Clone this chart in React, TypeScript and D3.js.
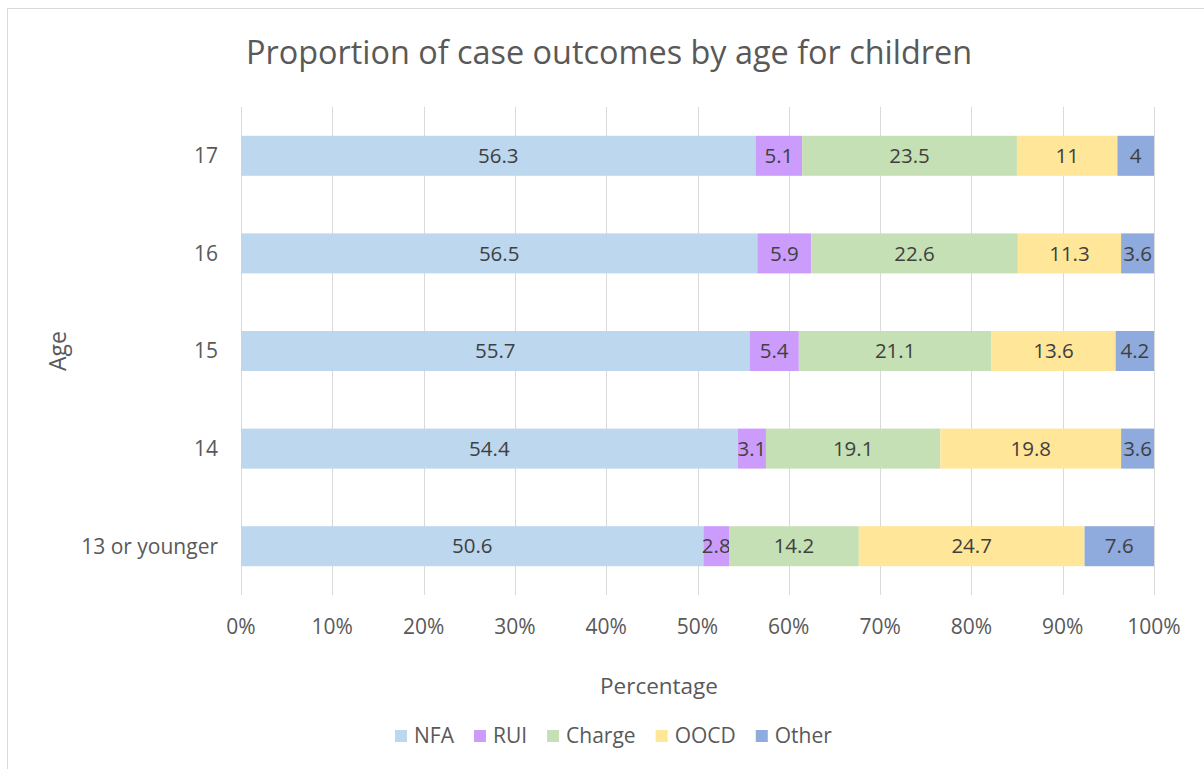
import React, { useEffect, useRef } from "react";
import * as d3 from "d3";

const categories = ["13 or younger", "14", "15", "16", "17"];
const seriesNames = ["NFA", "RUI", "Charge", "OOCD", "Other"];
const nfa = [50.6, 54.4, 55.7, 56.5, 56.3];
const rui = [2.8, 3.1, 5.4, 5.9, 5.1];
const charge = [14.2, 19.1, 21.1, 22.6, 23.5];
const oocd = [24.7, 19.8, 13.6, 11.3, 11];
const other = [7.6, 3.6, 4.2, 3.6, 4];
const xTicks = [0, 0.1, 0.2, 0.3, 0.4, 0.5, 0.6, 0.7, 0.8, 0.9, 1];
const colors = ["#bdd7ee", "#cc9cfc", "#c5e0b4", "#ffe699", "#8faadc"];

const W = 1204;
const H = 769;
const FONT = "'Open Sans', sans-serif";

const App = () => {
  const ref = useRef<SVGSVGElement | null>(null);

  useEffect(() => {
    const svg = d3.select(ref.current!);
    svg.selectAll("*").remove();

    const margin = { left: 241, right: 50, top: 107, bottom: 174 };

    const rows = categories.map((c, i) => ({
      cat: c,
      NFA: nfa[i],
      RUI: rui[i],
      Charge: charge[i],
      OOCD: oocd[i],
      Other: other[i],
    }));

    const stack = d3
      .stack<any>()
      .keys(seriesNames)
      .offset(d3.stackOffsetExpand);
    const layers = stack(rows);

    const x = d3.scaleLinear().domain([0, 1]).range([margin.left, W - margin.right]);
    const y = d3
      .scaleBand()
      .domain([...categories].reverse())
      .range([margin.top, H - margin.bottom])
      .paddingInner(0.59)
      .paddingOuter(0.295);

    // chart border
    svg
      .append("rect")
      .attr("x", 7.5)
      .attr("y", 8.5)
      .attr("width", W + 20)
      .attr("height", H + 20)
      .attr("fill", "#fff")
      .attr("stroke", "#d9d9d9");

    // title
    svg
      .append("text")
      .attr("x", 609)
      .attr("y", 64)
      .attr("text-anchor", "middle")
      .attr("font-family", FONT)
      .attr("font-size", 32.4)
      .attr("fill", "#595959")
      .text("Proportion of case outcomes by age for children");

    // gridlines
    svg
      .append("g")
      .selectAll("line")
      .data(xTicks)
      .join("line")
      .attr("x1", (d) => Math.round(x(d)) + 0.5)
      .attr("x2", (d) => Math.round(x(d)) + 0.5)
      .attr("y1", margin.top)
      .attr("y2", H - margin.bottom)
      .attr("stroke", "#d9d9d9")
      .attr("stroke-width", 1);

    // x tick labels
    svg
      .append("g")
      .selectAll("text")
      .data(xTicks)
      .join("text")
      .attr("x", (d) => x(d))
      .attr("y", 634)
      .attr("text-anchor", "middle")
      .attr("font-family", FONT)
      .attr("font-size", 21)
      .attr("fill", "#595959")
      .text((d) => d3.format(".0%")(d));

    // y tick labels
    svg
      .append("g")
      .selectAll("text")
      .data(categories)
      .join("text")
      .attr("x", 218)
      .attr("y", (d) => y(d)! + y.bandwidth() / 2)
      .attr("dy", "0.35em")
      .attr("text-anchor", "end")
      .attr("font-family", FONT)
      .attr("font-size", 21)
      .attr("fill", "#595959")
      .text((d) => d);

    // bars
    const g = svg
      .append("g")
      .selectAll("g")
      .data(layers)
      .join("g")
      .attr("fill", (_, i) => colors[i]);

    g.selectAll("rect")
      .data((d) => d)
      .join("rect")
      .attr("x", (d) => x(d[0]))
      .attr("width", (d) => x(d[1]) - x(d[0]))
      .attr("y", (d) => y(d.data.cat)!)
      .attr("height", y.bandwidth());

    // data labels
    g.selectAll("text")
      .data((d) => d.map((p) => ({ p, key: d.key })))
      .join("text")
      .attr("x", (d) => (x(d.p[0]) + x(d.p[1])) / 2)
      .attr("y", (d) => y(d.p.data.cat)! + y.bandwidth() / 2)
      .attr("dy", "0.35em")
      .attr("text-anchor", "middle")
      .attr("font-family", FONT)
      .attr("font-size", 20.5)
      .attr("fill", "#404040")
      .text((d) => String(d.p.data[d.key]));

    // axis titles
    svg
      .append("text")
      .attr("x", 659)
      .attr("y", 694)
      .attr("text-anchor", "middle")
      .attr("font-family", FONT)
      .attr("font-size", 22.5)
      .attr("fill", "#595959")
      .text("Percentage");

    svg
      .append("text")
      .attr("transform", `translate(66, ${(margin.top + H - margin.bottom) / 2}) rotate(-90)`)
      .attr("text-anchor", "middle")
      .attr("font-family", FONT)
      .attr("font-size", 23)
      .attr("fill", "#595959")
      .text("Age");

    // legend
    const legend = svg.append("g");
    let cx = 0;
    seriesNames.forEach((name, i) => {
      const item = legend.append("g").attr("transform", `translate(${cx},0)`);
      item
        .append("rect")
        .attr("x", 0)
        .attr("y", -6)
        .attr("width", 12)
        .attr("height", 12)
        .attr("fill", colors[i]);
      const t = item
        .append("text")
        .attr("x", 19)
        .attr("dy", "0.35em")
        .attr("font-family", FONT)
        .attr("font-size", 21)
        .attr("fill", "#595959")
        .text(name);
      const tw = (t.node() as SVGTextElement).getComputedTextLength();
      cx += 19 + tw + 20;
    });
    const total = cx - 20;
    legend.attr("transform", `translate(${395}, 736)`);
    void total;
  });

  return (
    <svg
      ref={ref}
      width={W}
      height={H}
      style={{ position: "absolute", left: 0, top: 0, background: "#fff" }}
    />
  );
};

export default App;
